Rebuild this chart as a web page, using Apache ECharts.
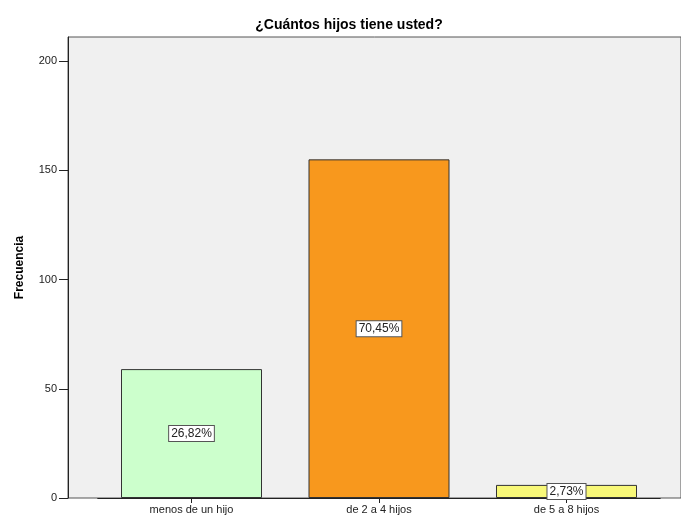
<!DOCTYPE html>
<html>
<head>
<meta charset="utf-8">
<script src="https://cdn.jsdelivr.net/npm/echarts@6/dist/echarts.min.js"></script>
<style>html,body{margin:0;padding:0;background:#fff;}#c{width:681px;height:519px;}</style>
</head>
<body>
<div id="c"></div>
<script>
const categories = ['menos de un hijo', 'de 2 a 4 hijos', 'de 5 a 8 hijos'];
const frecuencia = [59, 155, 6];
const porcentajes = ['26,82%', '70,45%', '2,73%'];
const barColors = ['#CCFFCC', '#F8981D', '#F8F878'];
const yTicks = [0, 50, 100, 150, 200];

const FONT = '"Liberation Sans", Arial, sans-serif';
const chart = echarts.init(document.getElementById('c'), null, {renderer: 'canvas'});
chart.setOption({
  animation: false,
  title: {
    text: '¿Cuántos hijos tiene usted?',
    left: 344, top: 13, textAlign: 'center',
    textStyle: {fontFamily: FONT, fontSize: 14, fontWeight: 'bold', color: '#000'}
  },
  grid: [
    {left: 68, top: 37, right: 0, bottom: 21, show: true, backgroundColor: '#F0F0F0', borderColor: '#555', borderWidth: 1},
    {left: 97.75, top: 37, right: 20.75, bottom: 21}
  ],
  xAxis: [
    {gridIndex: 0, type: 'value', show: false, min: 0, max: 1},
    {gridIndex: 1, type: 'category', data: categories,
     axisLine: {show: true, lineStyle: {color: '#222', width: 1}},
     axisTick: {show: true, alignWithLabel: true, length: 5, lineStyle: {color: '#222'}},
     axisLabel: {fontFamily: FONT, fontSize: 11, color: '#222', margin: 6}}
  ],
  yAxis: [
    {gridIndex: 0, type: 'value', min: 0, max: 211, interval: 50,
     name: 'Frecuencia', nameLocation: 'middle', nameGap: 42,
     nameTextStyle: {fontFamily: FONT, fontSize: 12, fontWeight: 'bold', color: '#000'},
     axisLine: {show: true, lineStyle: {color: '#222', width: 1}},
     axisTick: {show: true, length: 9, lineStyle: {color: '#222'}, customValues: yTicks},
     axisLabel: {fontFamily: FONT, fontSize: 11, color: '#222', margin: 11, customValues: yTicks},
     splitLine: {show: false}},
    {gridIndex: 1, type: 'value', min: 0, max: 211, show: false, splitLine: {show: false}}
  ],
  series: [{
    type: 'bar', xAxisIndex: 1, yAxisIndex: 1, barWidth: 141,
    data: frecuencia.map((v, i) => ({value: v, itemStyle: {color: barColors[i]}})),
    itemStyle: {borderColor: '#333', borderWidth: 1},
    label: {
      show: true, position: 'inside',
      formatter: p => porcentajes[p.dataIndex],
      fontFamily: FONT, fontSize: 12, color: '#222',
      backgroundColor: '#fff', borderColor: '#555', borderWidth: 1,
      padding: [2, 2, 1, 2]
    }
  }]
});
</script>
</body>
</html>
